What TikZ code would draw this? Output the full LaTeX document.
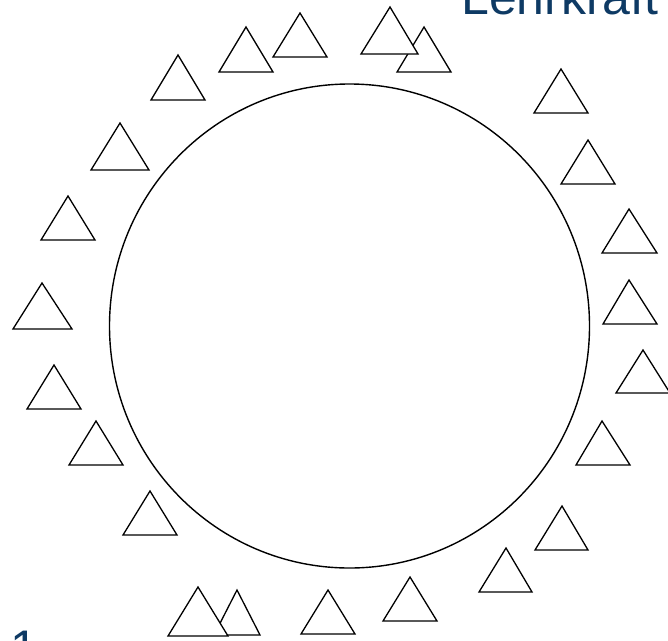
\documentclass[tikz,border=0pt]{standalone}
\usepackage{fontspec}
\setmainfont{Liberation Sans}
\definecolor{titleblue}{RGB}{14,58,100}
\begin{document}
\begin{tikzpicture}[x=1pt,y=-1pt,
  tri/.style={draw=black,fill=white,line width=1.3pt,line join=miter},
  ring/.style={draw=black,line width=1.4pt},
  lbl/.style={text=titleblue,font=\fontsize{50}{50}\selectfont,inner sep=0pt,anchor=base west}]
\useasboundingbox (0,0) rectangle (668,640);
\clip (0,0) rectangle (668,640);
\draw[ring] (349.5,326) ellipse [x radius=240, y radius=242];
% triangles: apex x, apex y, base left, base right, base y
\foreach \ax/\ay/\bl/\br/\by in {
  178/55/151/205/100,
  246/27/219/273/72,
  300/13/273/327/57,
  424/27/397/451/72,
  390/7/361/418/54,
  561/69/534/588/113,
  588/140/561/615/184,
  629/209/602/657/253,
  629/280/603/657/324,
  643/350/616/670/393,
  602/421/576/630/465,
  562/506/535/588/550,
  506/548/479/532/592,
  410/577/383/437/621,
  328/590/301/355/634,
  237/590/214/260/635,
  198/587/168/228/636,
  150/491/123/177/535,
  96/421/69/123/465,
  54/365/27/81/409,
  42/283/13/72/329,
  68/196/41/95/240,
  120/123/91/149/170}
  \draw[tri] (\ax,\ay) -- (\br,\by) -- (\bl,\by) -- cycle;
\node[lbl] (title) at (461,14) {Lehrkraft};
\node[lbl] (num) at (10,665) {1};
\end{tikzpicture}
\end{document}
